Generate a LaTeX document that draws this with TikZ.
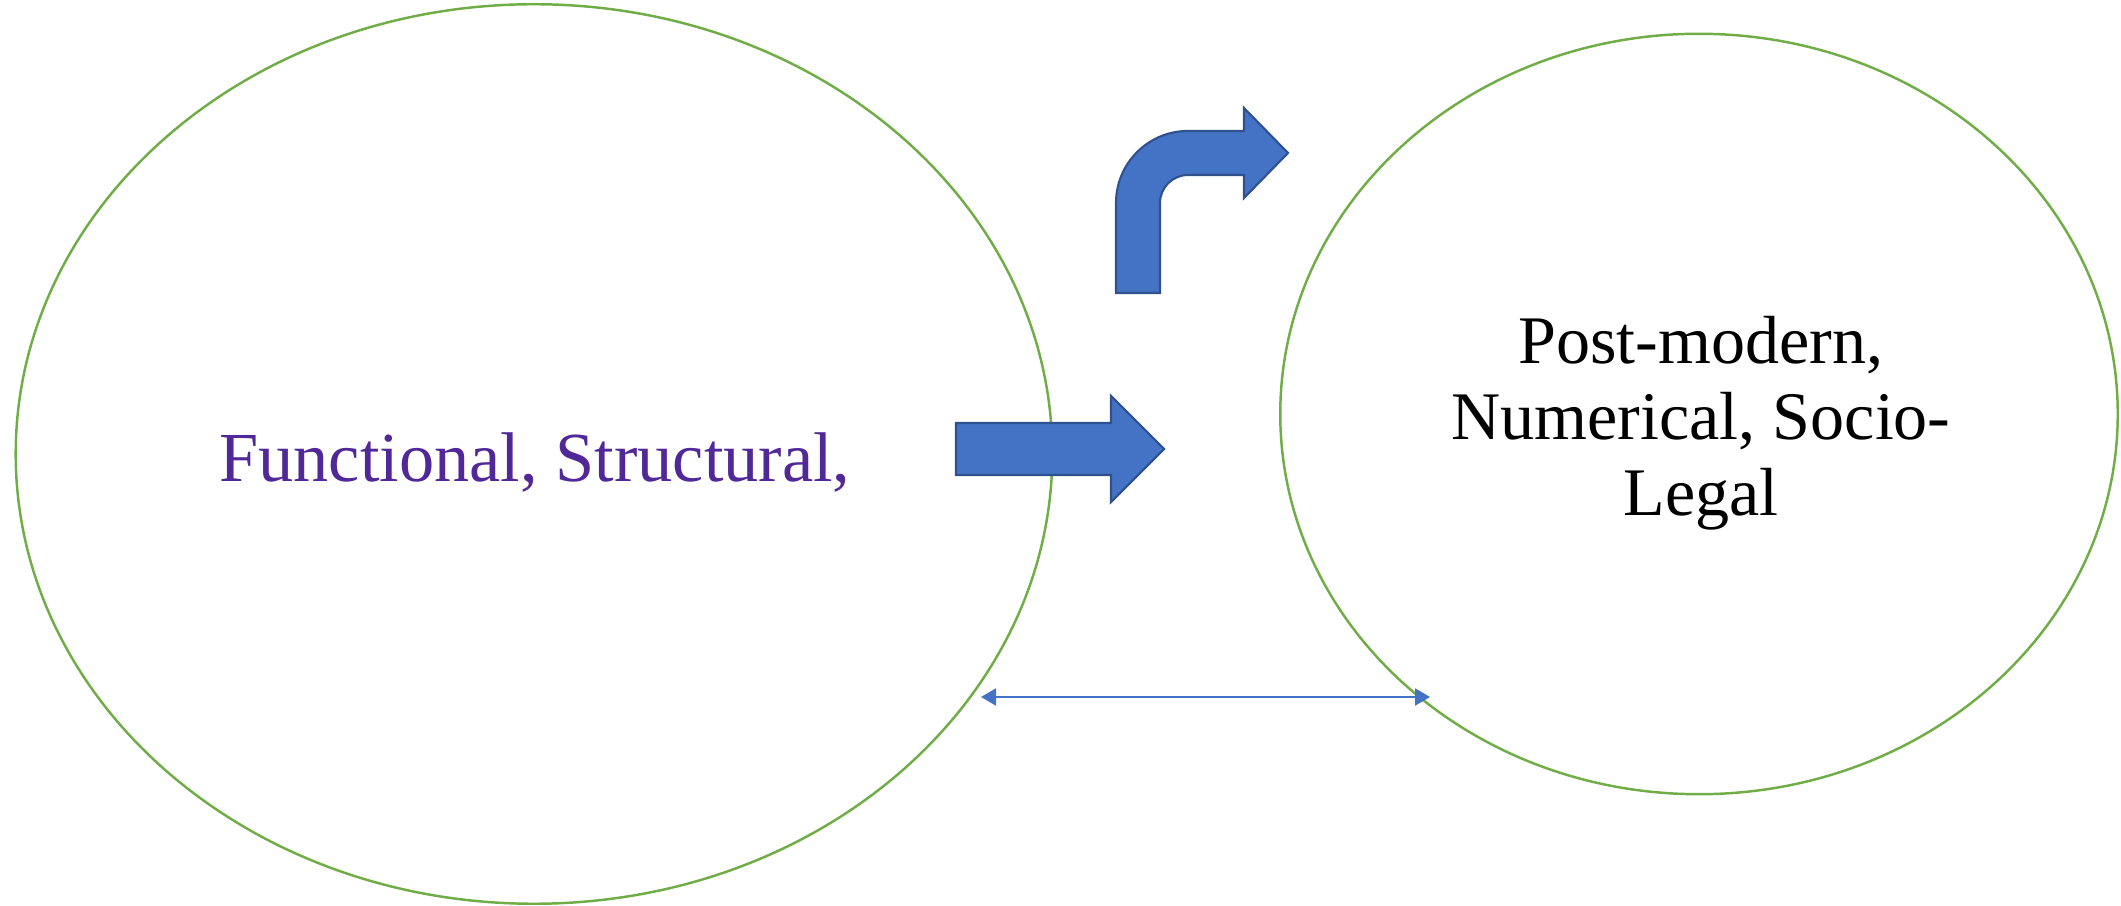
\documentclass[tikz,border=0pt]{standalone}
\usepackage{fontspec}
\setmainfont{Liberation Serif}
\usepackage{tikz}
\usetikzlibrary{shapes.geometric,arrows.meta}
\definecolor{ringgreen}{RGB}{112,173,71}
\definecolor{arrowblue}{RGB}{68,114,196}
\definecolor{arrowedge}{RGB}{47,82,143}
\definecolor{textpurple}{RGB}{81,40,152}
\tikzset{
	ring/.style={draw=ringgreen, line width=0.7pt, ellipse, inner sep=0pt},
	blockarrow/.style={fill=arrowblue, draw=arrowedge, line width=0.6pt, line join=miter},
	link/.style={draw=arrowblue, line width=0.6pt, {Triangle[length=0.15cm,width=0.17cm]}-{Triangle[length=0.15cm,width=0.17cm]}}
}
\begin{document}
\begin{tikzpicture}[x=0.01cm, y=0.01cm]
	\useasboundingbox (0,0) rectangle (2121,906);
	\node[ring, minimum width=10.36cm, minimum height=8.99cm] (old) at (534,452) {};
	\node[ring, minimum width=8.37cm, minimum height=7.60cm] (new) at (1699,492) {};
	\node[anchor=base, text=textpurple, font=\fontsize{20pt}{24pt}\selectfont] (oldtext) at (535,424) {Functional, Structural,};
	\node[align=center, inner sep=0pt, font=\fontsize{19.36pt}{21.6pt}\selectfont] (newtext) at (1701,483) {Post-modern,\\Numerical, Socio-\\Legal};
	
	\draw[blockarrow] (956,431) -- (956,483) -- (1111,483) -- (1111,510) -- (1164,457)
		-- (1111,404) -- (1111,431) -- cycle;
	\draw[blockarrow] (1116,613) -- (1116,703) arc[start angle=180, end angle=90, radius=0.72cm]
		-- (1244,775) -- (1244,798) -- (1288,753) -- (1244,708) -- (1244,731) -- (1188,731)
		arc[start angle=90, end angle=180, radius=0.28cm] -- (1160,613) -- cycle;
	
	\coordinate (oldend) at (981,209);
	\coordinate (newend) at (1430,209);
	\draw[link] (oldend) -- (newend);
\end{tikzpicture}
\end{document}
